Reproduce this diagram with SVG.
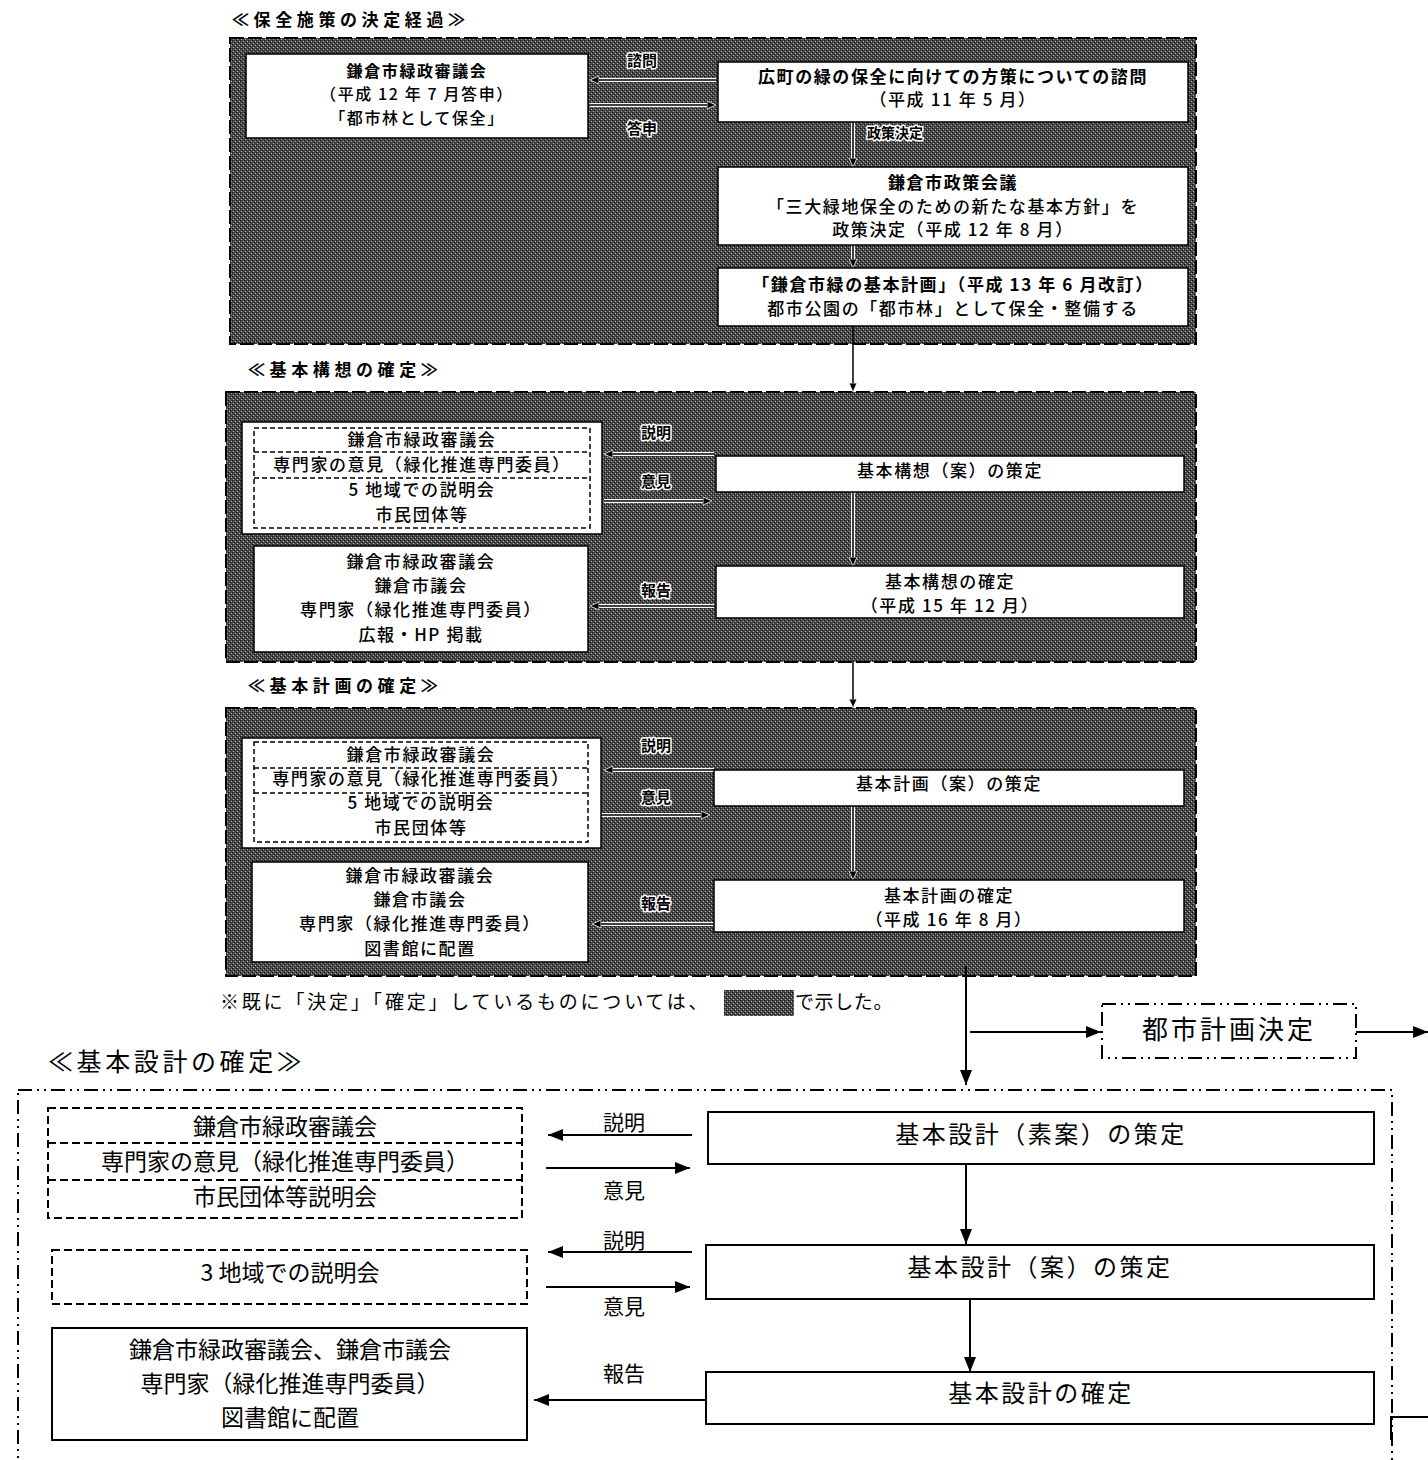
<svg xmlns="http://www.w3.org/2000/svg" width="1428" height="1460" viewBox="0 0 1428 1460">
<defs>
<pattern id="ht" width="4" height="4" patternUnits="userSpaceOnUse">
<rect width="4" height="4" fill="#484848"/>
<rect x="0" y="0" width="1" height="1" fill="#111"/>
<rect x="2" y="2" width="1" height="1" fill="#111"/>
<rect x="1" y="3" width="1" height="1" fill="#aaa"/>
<rect x="3" y="1" width="1" height="1" fill="#aaa"/>
</pattern>
<marker id="ah" markerWidth="10" markerHeight="10" refX="9" refY="5" orient="auto" markerUnits="userSpaceOnUse">
<path d="M0,1 L9,5 L0,9 Z" fill="#000" stroke="#fff" stroke-width="0.8"/>
</marker>
<marker id="ab" markerWidth="16" markerHeight="14" refX="15" refY="7" orient="auto" markerUnits="userSpaceOnUse">
<path d="M0,1 L15,7 L0,13 Z" fill="#000"/>
</marker>
</defs>
<style>
text{font-family:"Noto Sans CJK JP","Noto Sans CJK SC",sans-serif;fill:#000}
.t1{font-size:17px;letter-spacing:1.6px;text-anchor:middle;font-weight:500}
.b{font-weight:bold}
.lab{font-size:15px;font-weight:bold;text-anchor:middle;stroke:#fff;stroke-width:3px;paint-order:stroke;stroke-linejoin:round}
.sec{font-size:17px;letter-spacing:4.6px;font-weight:bold}
.gray{fill:url(#ht);stroke:#000;stroke-width:2;stroke-dasharray:14 4}
.wb{fill:#fff;stroke:#000;stroke-width:1.5}
.db{fill:none;stroke:#000;stroke-width:1.5;stroke-dasharray:5 3}
.halo{stroke:#fff;stroke-width:4;fill:none}
.ln{stroke:#000;stroke-width:1.5;fill:none;marker-end:url(#ah)}
.bl{stroke:#000;stroke-width:2;fill:none;marker-end:url(#ab)}
.bl0{stroke:#000;stroke-width:2;fill:none}
.dd{fill:none;stroke:#000;stroke-width:2;stroke-dasharray:14 5 2 5 2 5}
.t4{font-size:23px;text-anchor:middle}
.t4b{font-size:24px;letter-spacing:2.5px;text-anchor:middle}
.l4{font-size:21px;text-anchor:middle}
.dash4{fill:none;stroke:#000;stroke-width:2;stroke-dasharray:8 4}
</style>

<!-- section backgrounds -->
<g id="sec1">
<text class="sec" x="232" y="26">≪保全施策の決定経過≫</text>
<rect class="gray" x="230" y="38" width="966" height="306"/>
</g>
<g id="sec2">
<text class="sec" x="248" y="376">≪基本構想の確定≫</text>
<rect class="gray" x="226" y="392" width="970" height="270"/>
</g>
<g id="sec3">
<text class="sec" x="248" y="692">≪基本計画の確定≫</text>
<rect class="gray" x="226" y="708" width="970" height="268"/>
</g>
<g id="sec4">
<text x="48" y="1071" style="font-size:25px;letter-spacing:3.6px">≪基本設計の確定≫</text>
<rect class="dd" x="18" y="1090" width="1374" height="420"/>
</g>

<!-- connectors -->
<g id="connectors">
<line class="halo" x1="716" y1="80" x2="596" y2="80"/>
<line class="ln" x1="716" y1="80" x2="590" y2="80"/>
<line class="halo" x1="590" y1="105" x2="710" y2="105"/>
<line class="ln" x1="590" y1="105" x2="716" y2="105"/>
<line class="halo" x1="853" y1="122" x2="853" y2="160"/>
<line class="ln" x1="853" y1="122" x2="853" y2="167"/>
<line class="halo" x1="853" y1="245" x2="853" y2="262"/>
<line class="ln" x1="853" y1="245" x2="853" y2="268"/>
<line class="ln" x1="853" y1="326" x2="853" y2="392"/>

<line class="halo" x1="714" y1="454" x2="610" y2="454"/>
<line class="ln" x1="714" y1="454" x2="604" y2="454"/>
<line class="halo" x1="604" y1="501" x2="706" y2="501"/>
<line class="ln" x1="604" y1="501" x2="712" y2="501"/>
<line class="halo" x1="714" y1="606" x2="596" y2="606"/>
<line class="ln" x1="714" y1="606" x2="590" y2="606"/>
<line class="halo" x1="853" y1="492" x2="853" y2="560"/>
<line class="ln" x1="853" y1="492" x2="853" y2="566"/>
<line class="ln" x1="853" y1="662" x2="853" y2="708"/>

<line class="halo" x1="714" y1="770" x2="610" y2="770"/>
<line class="ln" x1="714" y1="770" x2="604" y2="770"/>
<line class="halo" x1="601" y1="815" x2="704" y2="815"/>
<line class="ln" x1="601" y1="815" x2="710" y2="815"/>
<line class="halo" x1="714" y1="924" x2="598" y2="924"/>
<line class="ln" x1="714" y1="924" x2="592" y2="924"/>
<line class="halo" x1="853" y1="806" x2="853" y2="874"/>
<line class="ln" x1="853" y1="806" x2="853" y2="880"/>

<line class="bl" x1="966" y1="966" x2="966" y2="1085"/>
<line class="bl" x1="970" y1="1032" x2="1101" y2="1032"/>
<line class="bl" x1="1356" y1="1032" x2="1428" y2="1032"/>

<line class="bl" x1="692" y1="1135" x2="548" y2="1135"/>
<line class="bl" x1="546" y1="1168" x2="690" y2="1168"/>
<line class="bl" x1="966" y1="1164" x2="966" y2="1244"/>
<line class="bl" x1="692" y1="1252" x2="548" y2="1252"/>
<line class="bl" x1="546" y1="1287" x2="690" y2="1287"/>
<line class="bl" x1="970" y1="1299" x2="970" y2="1372"/>
<line class="bl" x1="706" y1="1400" x2="534" y2="1400"/>
<path class="bl0" d="M1391,1440 L1391,1417 L1428,1417"/>
</g>

<!-- connector labels -->
<g id="labels">
<text class="lab" x="642" y="66">諮問</text>
<text class="lab" x="642" y="134">答申</text>
<text class="lab" x="895" y="138" style="font-size:14px">政策決定</text>
<text class="lab" x="656" y="438">説明</text>
<text class="lab" x="656" y="487">意見</text>
<text class="lab" x="656" y="596">報告</text>
<text class="lab" x="656" y="751">説明</text>
<text class="lab" x="656" y="803">意見</text>
<text class="lab" x="656" y="909">報告</text>
<text class="l4" x="624" y="1130">説明</text>
<text class="l4" x="624" y="1198">意見</text>
<text class="l4" x="624" y="1248">説明</text>
<text class="l4" x="624" y="1314">意見</text>
<text class="l4" x="624" y="1381">報告</text>
</g>

<!-- section 1 nodes -->
<g id="n1_council">
<rect class="wb" x="246" y="54" width="342" height="84"/>
<text class="t1 b" x="417" y="77" style="font-size:16px">鎌倉市緑政審議会</text>
<text class="t1" x="417" y="100" style="font-size:16px">（平成 12 年 7 月答申）</text>
<text class="t1" x="417" y="124" style="font-size:16px">「都市林として保全」</text>
</g>
<g id="n1_inquiry">
<rect class="wb" x="718" y="62" width="470" height="60"/>
<text class="t1 b" x="953" y="83">広町の緑の保全に向けての方策についての諮問</text>
<text class="t1" x="953" y="106">（平成 11 年 5 月）</text>
</g>
<g id="n1_policy">
<rect class="wb" x="718" y="167" width="470" height="78"/>
<text class="t1 b" x="953" y="189">鎌倉市政策会議</text>
<text class="t1" x="953" y="213">「三大緑地保全のための新たな基本方針」を</text>
<text class="t1" x="953" y="236">政策決定（平成 12 年 8 月）</text>
</g>
<g id="n1_plan">
<rect class="wb" x="718" y="268" width="470" height="58"/>
<text class="t1 b" x="953" y="291">「鎌倉市緑の基本計画」（平成 13 年 6 月改訂）</text>
<text class="t1" x="953" y="315">都市公園の「都市林」として保全・整備する</text>
</g>

<!-- section 2 nodes -->
<g id="n2_consult">
<rect class="wb" x="242" y="422" width="360" height="112"/>
<rect class="db" x="254" y="428" width="336" height="100"/>
<line class="db" x1="254" y1="452" x2="590" y2="452"/>
<line class="db" x1="254" y1="478" x2="590" y2="478"/>
<text class="t1" x="422" y="446">鎌倉市緑政審議会</text>
<text class="t1" x="422" y="471">専門家の意見（緑化推進専門委員）</text>
<text class="t1" x="422" y="496">5 地域での説明会</text>
<text class="t1" x="422" y="521">市民団体等</text>
</g>
<g id="n2_draft">
<rect class="wb" x="716" y="456" width="468" height="36"/>
<text class="t1" x="950" y="477">基本構想（案）の策定</text>
</g>
<g id="n2_report">
<rect class="wb" x="254" y="546" width="334" height="106"/>
<text class="t1" x="421" y="568">鎌倉市緑政審議会</text>
<text class="t1" x="421" y="592">鎌倉市議会</text>
<text class="t1" x="421" y="616">専門家（緑化推進専門委員）</text>
<text class="t1" x="421" y="641">広報・HP 掲載</text>
</g>
<g id="n2_final">
<rect class="wb" x="716" y="566" width="468" height="52"/>
<text class="t1" x="950" y="588">基本構想の確定</text>
<text class="t1" x="950" y="612">（平成 15 年 12 月）</text>
</g>

<!-- section 3 nodes -->
<g id="n3_consult">
<rect class="wb" x="242" y="738" width="359" height="110"/>
<rect class="db" x="254" y="742" width="334" height="100"/>
<line class="db" x1="254" y1="768" x2="588" y2="768"/>
<line class="db" x1="254" y1="793" x2="588" y2="793"/>
<text class="t1" x="421" y="761">鎌倉市緑政審議会</text>
<text class="t1" x="421" y="785">専門家の意見（緑化推進専門委員）</text>
<text class="t1" x="421" y="809">5 地域での説明会</text>
<text class="t1" x="421" y="834">市民団体等</text>
</g>
<g id="n3_draft">
<rect class="wb" x="714" y="770" width="470" height="36"/>
<text class="t1" x="949" y="790">基本計画（案）の策定</text>
</g>
<g id="n3_report">
<rect class="wb" x="252" y="862" width="336" height="100"/>
<text class="t1" x="420" y="882">鎌倉市緑政審議会</text>
<text class="t1" x="420" y="906">鎌倉市議会</text>
<text class="t1" x="420" y="930">専門家（緑化推進専門委員）</text>
<text class="t1" x="420" y="955">図書館に配置</text>
</g>
<g id="n3_final">
<rect class="wb" x="714" y="880" width="470" height="52"/>
<text class="t1" x="949" y="902">基本計画の確定</text>
<text class="t1" x="949" y="926">（平成 16 年 8 月）</text>
</g>

<!-- footnote -->
<g id="note">
<text x="220" y="1009" style="font-size:19px;letter-spacing:2.8px">※既に「決定」「確定」しているものについては、</text>
<rect x="724" y="990" width="70" height="26" fill="url(#ht)"/>
<text x="795" y="1009" style="font-size:19px;letter-spacing:0.6px">で示した。</text>
</g>

<!-- city planning -->
<g id="n_city">
<rect class="dd" x="1102" y="1004" width="254" height="54"/>
<text x="1229" y="1039" style="font-size:26px;letter-spacing:3px;text-anchor:middle">都市計画決定</text>
</g>

<!-- section 4 nodes -->
<g id="n4_consultA">
<rect class="dash4" x="48" y="1108" width="474" height="110"/>
<line class="dash4" x1="48" y1="1143" x2="522" y2="1143"/>
<line class="dash4" x1="48" y1="1180" x2="522" y2="1180"/>
<text class="t4" x="285" y="1135">鎌倉市緑政審議会</text>
<text class="t4" x="285" y="1170">専門家の意見（緑化推進専門委員）</text>
<text class="t4" x="285" y="1205">市民団体等説明会</text>
</g>
<g id="n4_sketch">
<rect class="wb" x="708" y="1112" width="666" height="52" style="stroke-width:2"/>
<text class="t4b" x="1041" y="1143">基本設計（素案）の策定</text>
</g>
<g id="n4_consultB">
<rect class="dash4" x="52" y="1250" width="475" height="54"/>
<text class="t4" x="290" y="1281">3 地域での説明会</text>
</g>
<g id="n4_draft">
<rect class="wb" x="706" y="1245" width="668" height="54" style="stroke-width:2"/>
<text class="t4b" x="1040" y="1276">基本設計（案）の策定</text>
</g>
<g id="n4_report">
<rect class="wb" x="52" y="1328" width="475" height="112" style="stroke-width:2"/>
<text class="t4" x="290" y="1358">鎌倉市緑政審議会、鎌倉市議会</text>
<text class="t4" x="290" y="1392">専門家（緑化推進専門委員）</text>
<text class="t4" x="290" y="1426">図書館に配置</text>
</g>
<g id="n4_final">
<rect class="wb" x="706" y="1372" width="668" height="52" style="stroke-width:2"/>
<text class="t4b" x="1041" y="1402">基本設計の確定</text>
</g>
</svg>
